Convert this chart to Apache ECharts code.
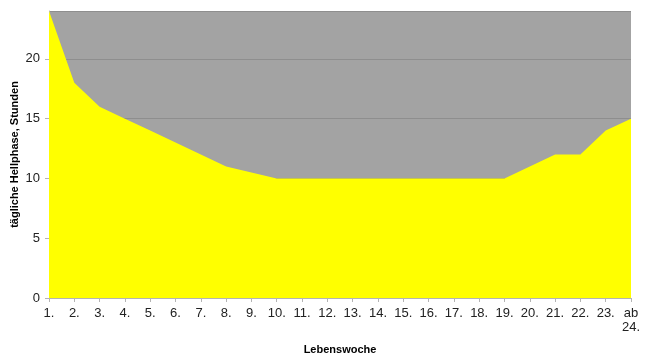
<!DOCTYPE html>
<html>
<head>
<meta charset="utf-8">
<script src="https://cdn.jsdelivr.net/npm/echarts@6/dist/echarts.min.js"></script>
<style>html,body{margin:0;padding:0;background:#fff}#c{width:646px;height:363px}</style>
</head>
<body>
<div id="c"></div>
<script>
var categories = ['1.','2.','3.','4.','5.','6.','7.','8.','9.','10.','11.','12.','13.','14.','15.','16.','17.','18.','19.','20.','21.','22.','23.','ab\n24.'];
var hellphase = [24,18,16,15,14,13,12,11,10.5,10,10,10,10,10,10,10,10,10,10,11,12,12,14,15];
var yTicks = {min:0, max:24, interval:5};
var font = '"Liberation Sans Narrow","Liberation Sans",Arial,sans-serif';
var chart = echarts.init(document.getElementById('c'));
chart.setOption({
  animation:false,
  grid:{left:49,right:15,top:11,bottom:65,show:true,backgroundColor:'#a3a3a3',borderWidth:0,outerBoundsMode:'none',containLabel:false},
  xAxis:{type:'category',data:categories,boundaryGap:false,
    name:'Lebenswoche',nameLocation:'middle',nameGap:46,nameMoveOverlap:false,
    nameTextStyle:{fontFamily:'"Liberation Sans",Arial,sans-serif',fontWeight:'bold',fontSize:11,color:'#000'},
    axisLine:{lineStyle:{color:'#b4b4b4'}},
    axisTick:{show:true,length:4,lineStyle:{color:'#b4b4b4'}},
    axisLabel:{fontFamily:font,fontSize:13,color:'#222',margin:8,interval:0,lineHeight:14,verticalAlign:'top'}
  },
  yAxis:{type:'value',min:yTicks.min,max:yTicks.max,interval:yTicks.interval,
    name:'tägliche Hellphase, Stunden',nameLocation:'middle',nameGap:29,nameRotate:90,nameMoveOverlap:false,
    nameTextStyle:{fontFamily:'"Liberation Sans",Arial,sans-serif',fontWeight:'bold',fontSize:11,color:'#000'},
    axisLine:{show:true,lineStyle:{color:'#b4b4b4'}},
    axisTick:{show:true,length:4,lineStyle:{color:'#b4b4b4'}},
    axisLabel:{fontFamily:font,fontSize:13,color:'#222',margin:9,showMaxLabel:false},
    splitLine:{show:true,lineStyle:{color:'#8e8e8e',width:1}}
  },
  series:[{type:'line',data:hellphase,symbol:'none',
    lineStyle:{width:0,color:'#ffff00'},
    areaStyle:{color:'#ffff00',opacity:1}}]
});
</script>
</body>
</html>
